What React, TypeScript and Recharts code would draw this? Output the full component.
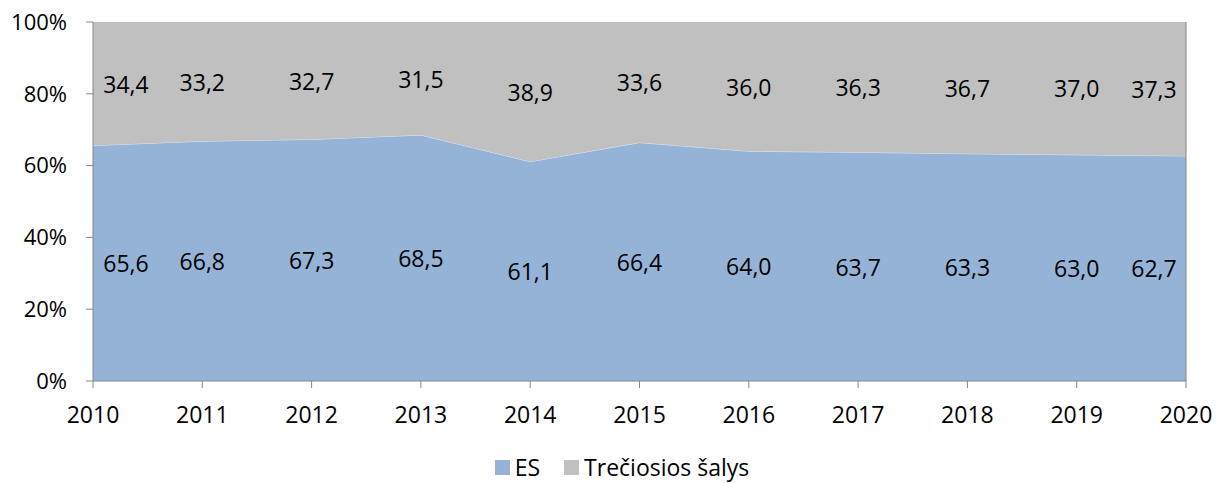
import React from 'react';
import { ComposedChart, Area, Line, XAxis, YAxis, Legend, LabelList, ReferenceLine } from 'recharts';

const years = ['2010', '2011', '2012', '2013', '2014', '2015', '2016', '2017', '2018', '2019', '2020'];
const esValues = [65.6, 66.8, 67.3, 68.5, 61.1, 66.4, 64.0, 63.7, 63.3, 63.0, 62.7];
const thirdValues = [34.4, 33.2, 32.7, 31.5, 38.9, 33.6, 36.0, 36.3, 36.7, 37.0, 37.3];
const yTicks = [0, 20, 40, 60, 80, 100];
const seriesNames = ['ES', 'Trečiosios šalys'];
const seriesColors = ['#95B3D7', '#C0C0C0'];

const data = years.map((year, i) => ({
  year,
  es: esValues[i],
  third: thirdValues[i],
  esMid: esValues[i] / 2,
  thirdMid: esValues[i] + thirdValues[i] / 2,
}));

const FONT = '"Open Sans", sans-serif';
const fmt = (v: number) => v.toFixed(1).replace('.', ',');

const makeLabel = (arr: number[]) => (props: any) => {
  const { x, y, index } = props;
  let dx = 0;
  if (index === 0) dx = 33;
  if (index === arr.length - 1) dx = -32;
  return (
    <text
      x={x + dx}
      y={y}
      textAnchor="middle"
      dominantBaseline="central"
      fontFamily={FONT}
      fontSize={23}
      fill="#000"
    >
      {fmt(arr[index])}
    </text>
  );
};

const LegendContent = () => (
  <div
    style={{
      display: 'flex',
      justifyContent: 'center',
      alignItems: 'center',
      height: 32,
      fontFamily: FONT,
      fontSize: 23,
      lineHeight: '30px',
      color: '#000',
      paddingLeft: 58,
    }}
  >
    {seriesNames.map((n, i) => (
      <div key={n} style={{ display: 'flex', alignItems: 'center', marginRight: i === 0 ? 24 : 0 }}>
        <span style={{ display: 'inline-block', width: 15, height: 15, background: seriesColors[i], marginRight: 5 }} />
        <span>{n}</span>
      </div>
    ))}
  </div>
);

export default function App() {
  return (
    <div style={{ position: 'absolute', left: 0, top: 0, width: 1227, height: 483, background: '#fff' }}>
      <ComposedChart width={1227} height={483} data={data} margin={{ top: 22, right: 41, bottom: 0, left: 0 }}>
        <XAxis
          dataKey="year"
          stroke="#868686"
          tickSize={7}
          tickMargin={19}
          height={70}
          tick={{ fill: '#000', fontFamily: FONT, fontSize: 23 }}
          interval={0}
        />
        <YAxis
          domain={[0, 100]}
          ticks={yTicks}
          width={93}
          stroke="#868686"
          tickSize={7}
          tickMargin={19}
          tickFormatter={(v: number) => `${v}%`}
          tick={{ fill: '#000', fontFamily: FONT, fontSize: 22 }}
          allowDataOverflow
        />
        <Legend verticalAlign="bottom" height={32} content={<LegendContent />} />
        <Area
          type="linear"
          dataKey="es"
          stackId="s"
          fill={seriesColors[0]}
          fillOpacity={1}
          stroke="#dbe5f1"
          strokeWidth={1}
          isAnimationActive={false}
        />
        <Area
          type="linear"
          dataKey="third"
          stackId="s"
          fill={seriesColors[1]}
          fillOpacity={1}
          stroke="none"
          isAnimationActive={false}
        />
        <ReferenceLine x="2020" stroke="#868686" />
        <Line dataKey="esMid" stroke="none" dot={false} activeDot={false} isAnimationActive={false} legendType="none">
          <LabelList dataKey="esMid" content={makeLabel(esValues)} />
        </Line>
        <Line dataKey="thirdMid" stroke="none" dot={false} activeDot={false} isAnimationActive={false} legendType="none">
          <LabelList dataKey="thirdMid" content={makeLabel(thirdValues)} />
        </Line>
      </ComposedChart>
    </div>
  );
}
